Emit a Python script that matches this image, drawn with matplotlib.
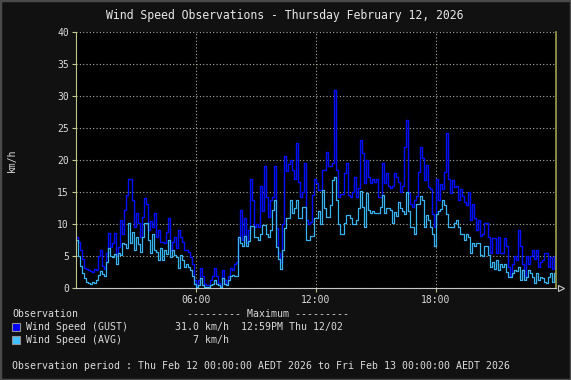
import numpy as np
import matplotlib
matplotlib.use("Agg")
import matplotlib.pyplot as plt
from matplotlib.patches import Rectangle

# wind speed (km/h), 6-minute samples, one row per hour
gust = [
    8.0, 7.2, 6.0, 4.5, 3.2, 3.0, 2.8, 2.6, 2.5, 3.0,
    2.8, 5.0, 6.0, 3.5, 2.9, 5.5, 8.6, 6.4, 7.0, 8.6,
    5.2, 6.4, 10.6, 8.5, 12.2, 14.5, 17.1, 17.1, 13.7, 9.6,
    11.7, 10.2, 8.0, 11.1, 14.0, 13.2, 9.0, 10.5, 9.6, 11.7,
    8.0, 9.1, 7.2, 7.2, 7.0, 8.8, 10.9, 6.0, 7.2, 8.0,
    6.2, 9.1, 8.0, 7.2, 6.0, 5.9, 5.6, 4.9, 3.8, 1.3,
    0.5, 1.3, 3.1, 1.8, 0.7, 0.4, 0.4, 1.2, 1.8, 3.1,
    1.8, 0.8, 0.5, 2.8, 1.2, 0.7, 1.8, 3.1, 2.8, 3.7,
    4.0, 8.0, 12.2, 7.5, 11.0, 7.0, 9.0, 17.1, 13.7, 9.6,
    10.0, 9.5, 16.0, 12.0, 19.1, 14.2, 11.1, 13.7, 14.2, 19.0,
    9.4, 5.5, 4.0, 10.0, 20.6, 18.3, 19.4, 20.0, 18.5, 17.0,
    22.7, 16.6, 14.2, 15.0, 19.6, 10.6, 10.0, 10.3, 14.5, 17.0,
    16.4, 15.3, 15.3, 18.5, 18.5, 21.3, 19.0, 19.0, 19.5, 31.0,
    18.5, 14.2, 14.7, 14.7, 17.9, 19.5, 14.5, 14.2, 15.0, 17.4,
    14.2, 15.6, 23.1, 21.1, 16.4, 20.0, 17.4, 16.4, 17.0, 16.6,
    17.0, 14.2, 14.2, 19.5, 16.4, 17.9, 16.0, 15.6, 15.9, 18.0,
    17.4, 16.6, 15.0, 16.0, 22.1, 26.3, 14.8, 13.2, 12.7, 13.7,
    14.3, 18.2, 22.1, 20.3, 16.9, 19.2, 15.8, 15.5, 11.6, 9.6,
    17.1, 13.8, 16.3, 15.5, 18.2, 24.2, 17.0, 14.8, 16.9, 15.8,
    16.0, 13.8, 15.5, 14.3, 13.5, 13.0, 15.0, 10.6, 13.2, 11.0,
    9.1, 10.6, 8.1, 8.5, 10.1, 10.1, 8.0, 5.4, 7.8, 7.8,
    5.4, 7.9, 5.4, 5.4, 7.8, 6.5, 3.3, 1.8, 3.8, 5.0,
    4.4, 9.1, 6.5, 3.8, 1.8, 5.0, 3.8, 5.0, 6.0, 4.5,
    6.0, 3.3, 4.0, 4.4, 5.5, 5.5, 3.3, 4.9, 3.0, 5.0,
]
avg = [
    7.5, 5.0, 3.4, 2.4, 1.6, 1.0, 0.8, 0.7, 0.9, 0.8,
    1.3, 2.0, 2.6, 2.2, 1.8, 4.0, 6.3, 5.0, 4.8, 5.3,
    3.8, 5.4, 5.2, 7.0, 6.8, 6.2, 10.1, 7.0, 8.8, 6.0,
    8.0, 6.8, 5.7, 8.0, 10.1, 10.1, 7.5, 5.4, 8.5, 6.0,
    5.6, 4.4, 6.2, 4.4, 6.0, 5.3, 7.5, 4.9, 6.0, 5.2,
    4.9, 3.1, 5.2, 4.4, 3.3, 3.8, 3.3, 2.8, 1.8, 0.7,
    0.2, 0.4, 1.5, 0.5, 0.2, 0.1, 0.2, 0.4, 0.7, 1.2,
    0.7, 0.4, 0.2, 1.5, 0.7, 0.4, 1.2, 1.8, 2.0, 1.8,
    1.8, 7.9, 7.0, 6.5, 8.2, 6.5, 7.3, 9.7, 9.7, 8.0,
    8.0, 7.5, 8.5, 9.8, 9.8, 8.5, 8.0, 9.0, 12.2, 13.7,
    6.4, 4.5, 3.0, 6.0, 9.4, 10.9, 10.9, 13.7, 11.7, 12.5,
    13.7, 11.0, 11.0, 12.7, 12.7, 7.5, 7.5, 8.2, 8.2, 11.0,
    10.9, 12.0, 10.0, 15.3, 12.5, 11.1, 11.1, 13.0, 16.9, 17.4,
    13.7, 10.0, 8.5, 8.5, 10.1, 11.4, 11.4, 11.0, 10.0, 10.0,
    10.6, 12.5, 15.1, 12.7, 9.6, 14.8, 12.2, 11.7, 12.0, 11.7,
    11.7, 11.7, 12.7, 14.5, 11.7, 12.5, 12.5, 12.2, 10.1, 11.9,
    11.2, 13.5, 12.5, 12.0, 11.6, 15.0, 12.1, 9.6, 9.6, 8.5,
    13.2, 13.2, 14.3, 13.7, 9.6, 11.4, 10.6, 9.5, 8.5, 6.5,
    11.6, 12.0, 12.4, 13.8, 13.0, 11.6, 9.6, 9.6, 9.6, 10.1,
    10.6, 9.6, 8.5, 8.5, 7.5, 8.5, 8.0, 5.4, 7.0, 6.5,
    7.0, 7.0, 5.2, 5.0, 6.6, 6.6, 5.2, 3.3, 4.0, 3.0,
    4.4, 2.8, 3.8, 3.3, 3.8, 2.5, 1.7, 1.7, 2.3, 2.8,
    2.7, 3.3, 1.25, 2.8, 1.25, 1.7, 2.8, 2.3, 1.7, 0.8,
    2.3, 1.25, 1.7, 1.5, 1.0, 0.8, 1.7, 2.3, 1.0, 2.3,
]
step_min = 6
hour_ticks = [6, 12, 18]
hour_labels = ["06:00", "12:00", "18:00"]
y_ticks = [0, 5, 10, 15, 20, 25, 30, 35, 40]

title = "Wind Speed Observations - Thursday February 12, 2026"
max_gust = "31.0 km/h"
max_gust_time = "12:59PM Thu 12/02"
max_avg = "7 km/h"
period = "Observation period : Thu Feb 12 00:00:00 AEDT 2026 to Fri Feb 13 00:00:00 AEDT 2026"

W, H = 571, 380
BG = "#111111"
TXT = "#dcdcdc"
GUST_C = "#0010ff"
AVG_C = "#38b4f0"
MONO = "DejaVu Sans Mono"


def px(x, y):
    return x / W, 1 - y / H


fig = plt.figure(figsize=(W / 100, H / 100), dpi=100, facecolor=BG)
ax = fig.add_axes([76 / W, 92 / H, 480 / W, 256 / H])
ax.set_facecolor("black")

hours = np.arange(len(gust)) * step_min / 60.0
hours = np.append(hours, 24.0)
ax.step(hours, gust + [gust[-1]], where="post", color=GUST_C, lw=1.0)
ax.step(hours, avg + [avg[-1]], where="post", color=AVG_C, lw=0.9)

ax.set_xlim(0, 24)
ax.set_ylim(0, 40)
ax.set_xticks(hour_ticks)
ax.set_xticklabels(hour_labels)
ax.set_yticks(y_ticks)
ax.grid(True, color="#a8b4a0", linestyle=(0, (1, 2)), linewidth=0.8)
ax.tick_params(colors=TXT, labelsize=7, length=3, direction="out", pad=2)
ax.tick_params(axis="both", color="#c0c890")
for lab in ax.get_xticklabels() + ax.get_yticklabels():
    lab.set_family(MONO)

for side in ["top", "right"]:
    ax.spines[side].set_visible(False)
ax.spines["left"].set_color("#c0c890")
ax.spines["bottom"].set_color("#c8c8c8")
ax.axvline(24, color="#a0a050", lw=1.2, clip_on=False)
ax.plot([24.25], [0], marker=">", mfc="none", mec="#c8c8c8", ms=4, mew=0.8, clip_on=False)

fig.text(*px(12, 160), "km/h", rotation=90, color=TXT, fontsize=7, family=MONO, ha="center", va="center")
fig.text(*px(285, 15), title, color="#e8e8e8", fontsize=8.3, family=MONO, ha="center", va="center")

# legend block
fig.text(*px(12, 314), "Observation", color=TXT, fontsize=7.1, family=MONO, va="center")
fig.text(*px(187, 314), "--------- Maximum ---------", color=TXT, fontsize=7.1, family=MONO, va="center")
rows = [("Wind Speed (GUST)", max_gust, max_gust_time, "#0000ff", 327),
        ("Wind Speed (AVG)", max_avg, "", "#40c0ff", 340)]
for name, val, when, col, y in rows:
    fig.patches.append(Rectangle(px(12, y + 4), 8 / W, 8 / H, transform=fig.transFigure,
                                 facecolor=col, edgecolor="#909090", lw=0.8))
    fig.text(*px(26, y), name, color=TXT, fontsize=7.1, family=MONO, va="center")
    fig.text(*px(229, y), val, color=TXT, fontsize=7.1, family=MONO, va="center", ha="right")
    if when:
        fig.text(*px(241, y), when, color=TXT, fontsize=7.1, family=MONO, va="center")
fig.text(*px(12, 366), period, color=TXT, fontsize=7.1, family=MONO, va="center")

fig.patches.append(Rectangle((0, 0), 1, 1, transform=fig.transFigure, fill=False,
                             edgecolor="#4a4a4a", lw=2.5))

fig.savefig("out.png", dpi=100, facecolor=BG)
